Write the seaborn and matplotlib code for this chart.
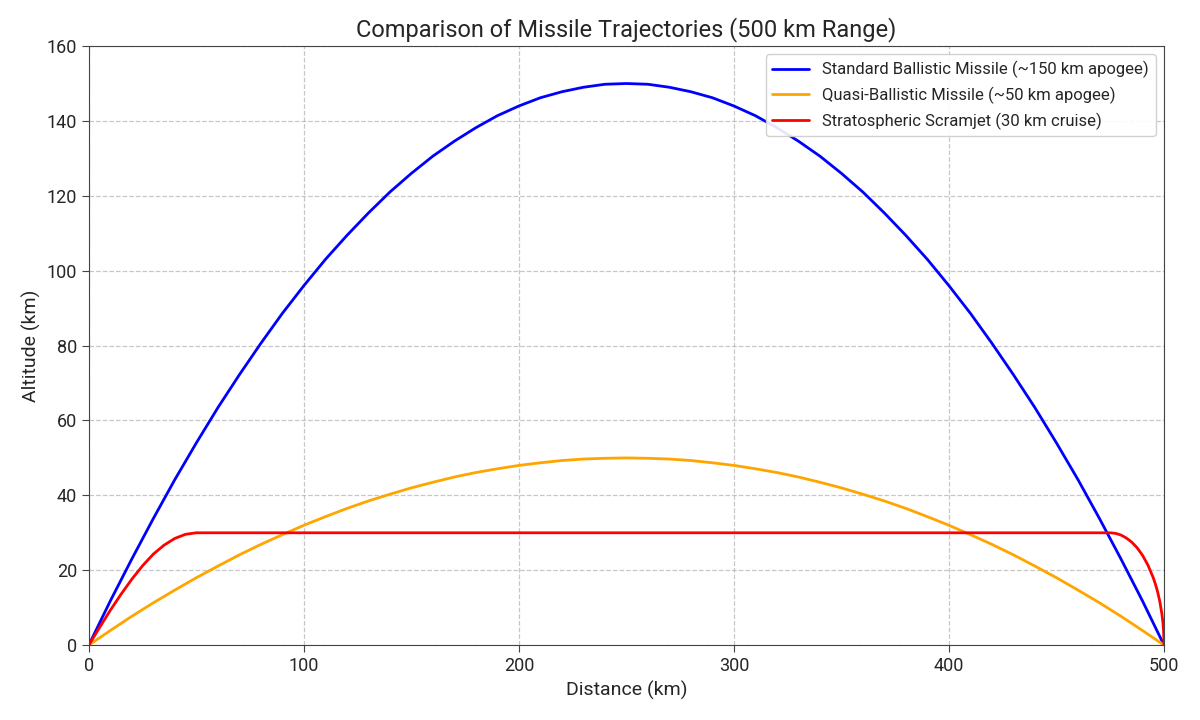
import pandas as pd
import matplotlib as mpl
import matplotlib.pyplot as plt
import seaborn as sns

mpl.use("Agg")

# Ballistic and quasi-ballistic paths, read every 10 km
arc_distance = [0, 10, 20, 30, 40, 50, 60, 70, 80, 90, 100, 110, 120, 130, 140, 150, 160, 170,
                180, 190, 200, 210, 220, 230, 240, 250, 260, 270, 280, 290, 300, 310, 320, 330,
                340, 350, 360, 370, 380, 390, 400, 410, 420, 430, 440, 450, 460, 470, 480, 490, 500]
ballistic_alt = [0, 11.8, 23.0, 33.8, 44.2, 54.0, 63.4, 72.2, 80.6, 88.6, 96.0, 103.0, 109.4,
                 115.4, 121.0, 126.0, 130.6, 134.6, 138.2, 141.4, 144.0, 146.2, 147.8, 149.0,
                 149.8, 150.0, 149.8, 149.0, 147.8, 146.2, 144.0, 141.4, 138.2, 134.6, 130.6,
                 126.0, 121.0, 115.4, 109.4, 103.0, 96.0, 88.6, 80.6, 72.2, 63.4, 54.0, 44.2,
                 33.8, 23.0, 11.8, 0]
quasi_alt = [0, 3.9, 7.7, 11.3, 14.7, 18.0, 21.1, 24.1, 26.9, 29.5, 32.0, 34.3, 36.5, 38.5,
             40.3, 42.0, 43.5, 44.9, 46.1, 47.1, 48.0, 48.7, 49.3, 49.7, 49.9, 50.0, 49.9, 49.7,
             49.3, 48.7, 48.0, 47.1, 46.1, 44.9, 43.5, 42.0, 40.3, 38.5, 36.5, 34.3, 32.0, 29.5,
             26.9, 24.1, 21.1, 18.0, 14.7, 11.3, 7.7, 3.9, 0]

# Scramjet: climb, cruise at 30 km, terminal dive
scram_distance = [0, 5, 10, 15, 20, 25, 30, 35, 40, 45, 50, 475, 477.5, 480, 482.5, 485,
                  487.5, 490, 492.5, 495, 496, 497, 498, 499, 499.5, 499.8, 500]
scram_alt = [0, 4.7, 9.3, 13.6, 17.6, 21.2, 24.3, 26.7, 28.5, 29.6, 30.0, 30.0, 29.85, 29.4,
             28.6, 27.5, 26.0, 24.0, 21.4, 18.0, 16.3, 14.3, 11.8, 8.4, 6.0, 3.8, 0]

LABELS = ["Standard Ballistic Missile (~150 km apogee)",
          "Quasi-Ballistic Missile (~50 km apogee)",
          "Stratospheric Scramjet (30 km cruise)"]
COLORS = ["blue", "orange", "red"]

sns.set_style("ticks")
plt.rcParams["font.family"] = ["Roboto", "DejaVu Sans"]

fig = plt.figure(figsize=(12, 7.2), dpi=100)
ax = fig.add_axes([0.074, 0.104, 0.896, 0.832])

series = [
    (arc_distance, ballistic_alt),
    (arc_distance, quasi_alt),
    (scram_distance, scram_alt),
]
for (xs, ys), label, color in zip(series, LABELS, COLORS):
    df = pd.DataFrame({"Distance": xs, "Altitude": ys})
    sns.lineplot(data=df, x="Distance", y="Altitude", ax=ax, color=color,
                 linewidth=2, label=label, sort=False, estimator=None)

ax.set_xlim(0, 500)
ax.set_ylim(0, 160)
ax.set_xticks(range(0, 501, 100))
ax.set_yticks(range(0, 161, 20))
ax.tick_params(labelsize=13, length=5, color="#444444")
ax.grid(True, linestyle="--", color="#b0b0b0", alpha=0.7, linewidth=0.9)
for sp in ax.spines.values():
    sp.set_color("#444444")
    sp.set_visible(True)

ax.set_title("Comparison of Missile Trajectories (500 km Range)", fontsize=17, pad=7)
ax.set_xlabel("Distance (km)", fontsize=14)
ax.set_ylabel("Altitude (km)", fontsize=14)
ax.legend(loc="upper right", fontsize=12, frameon=True, framealpha=0.9,
          edgecolor="#cccccc", handlelength=2.2)

fig.savefig("out.png", dpi=100)
